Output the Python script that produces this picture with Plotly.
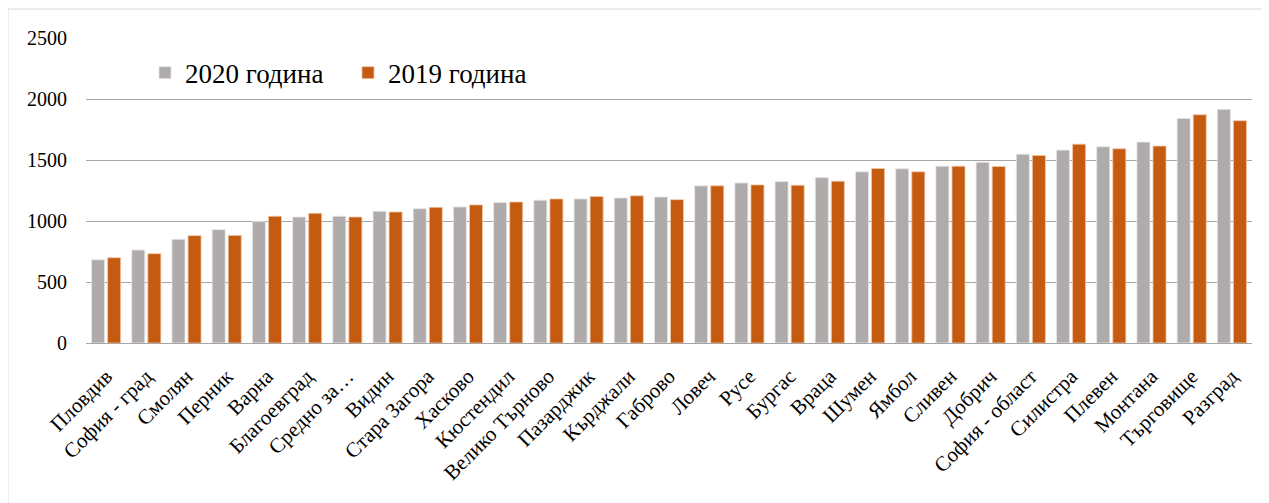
import plotly.graph_objects as go

categories = ["Пловдив", "София - град", "Смолян", "Перник", "Варна", "Благоевград",
              "Средно за…", "Видин", "Стара Загора", "Хасково", "Кюстендил",
              "Велико Търново", "Пазарджик", "Кърджали", "Габрово", "Ловеч", "Русе",
              "Бургас", "Враца", "Шумен", "Ямбол", "Сливен", "Добрич", "София - област",
              "Силистра", "Плевен", "Монтана", "Търговище", "Разград"]

values_2020 = [682, 762, 850, 929, 995, 1033, 1039, 1080, 1101, 1115, 1151, 1170, 1181,
               1189, 1197, 1288, 1312, 1323, 1356, 1403, 1428, 1449, 1482, 1548, 1581,
               1608, 1647, 1841, 1915]
values_2019 = [699, 732, 880, 882, 1039, 1063, 1033, 1074, 1112, 1132, 1156, 1181, 1200,
               1206, 1175, 1288, 1296, 1293, 1326, 1430, 1403, 1449, 1447, 1537, 1630,
               1592, 1614, 1871, 1822]

y_ticks = [0, 500, 1000, 1500, 2000, 2500]

FONT = "Times New Roman, Liberation Serif, DejaVu Serif, serif"

fig = go.Figure()
fig.add_trace(go.Bar(x=categories, y=values_2020, name="2020 година",
                     marker=dict(color="#AFABAB", line=dict(color="#E8E6E6", width=0.8))))
fig.add_trace(go.Bar(x=categories, y=values_2019, name="2019 година",
                     marker=dict(color="#C55A11", line=dict(color="#F0C8A8", width=0.8))))

fig.update_layout(
    width=1261, height=495,
    margin=dict(l=78, r=17, t=30, b=160),
    paper_bgcolor="white", plot_bgcolor="white",
    barmode="group", bargap=0.2, bargroupgap=0.19,
    font=dict(family=FONT, size=20, color="black"),
    legend=dict(orientation="h", x=0.0506, y=0.885, xanchor="left", yanchor="middle",
                font=dict(family=FONT, size=27, color="black"),
                bgcolor="rgba(0,0,0,0)", entrywidth=158, entrywidthmode="pixels"),
    xaxis=dict(tickangle=-45, tickfont=dict(family=FONT, size=21),
               showgrid=False, showline=False, ticks="", ticklabelstandoff=16),
    yaxis=dict(range=[0, 2500], tickvals=y_ticks, showgrid=True, gridcolor="#A6A6A6",
               gridwidth=1.3, zeroline=True, zerolinecolor="#A6A6A6", zerolinewidth=1.3,
               tickfont=dict(family=FONT, size=20), ticks="", ticklabelstandoff=18),
    shapes=[dict(type="rect", xref="paper", yref="paper", x0=-0.0669, x1=1.05, y0=-0.7, y1=1.095,
                 line=dict(color="#D9D9D9", width=1), fillcolor="rgba(0,0,0,0)", layer="below")],
)

fig.write_html("out.html")
